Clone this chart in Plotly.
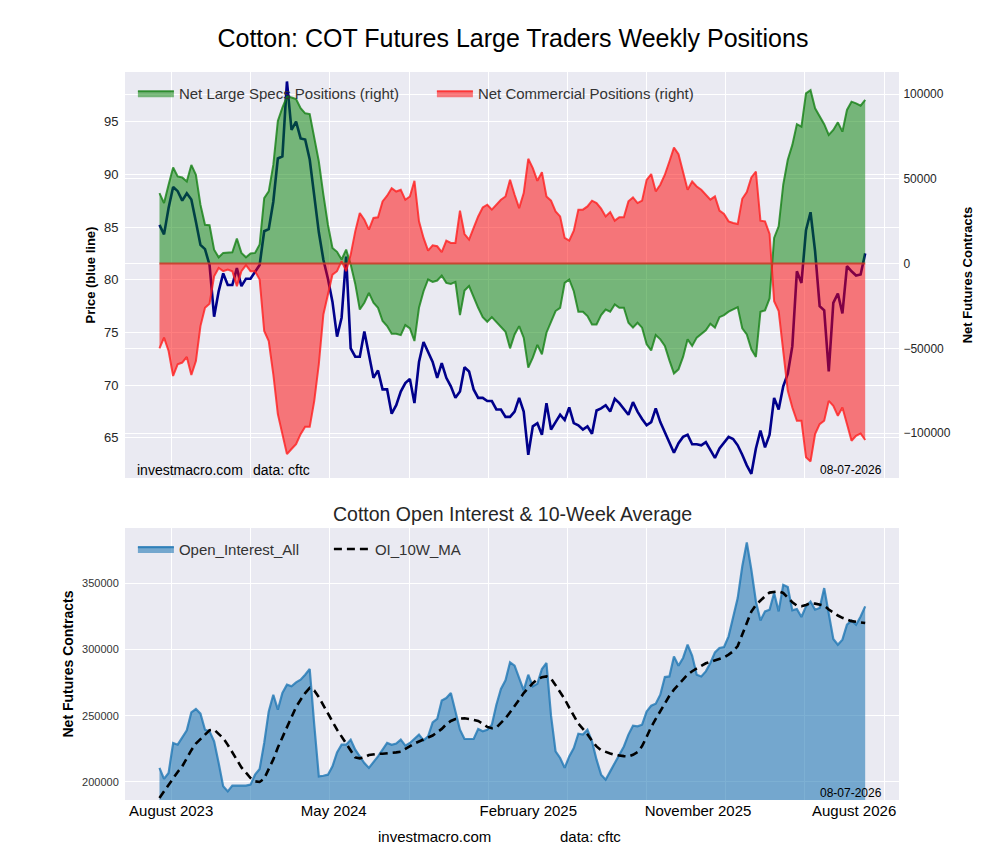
import pandas as pd
import plotly.graph_objects as go

# weekly report dates
dates = pd.date_range(end="2026-07-03", periods=156, freq="7D")

price = [85.2, 84.3, 86.8, 88.8, 88.4, 87.5, 88.2, 87.6, 85.5, 83.3,
         82.9, 81.4, 76.5, 78.9, 80.6, 79.5, 79.5, 81.1, 79.4, 80.1,
         80.1, 80.8, 81.4, 84.6, 84.8, 87.4, 91.5, 91.7, 98.8, 94.2,
         95.0, 93.4, 93.3, 91.4, 88.0, 84.5, 81.9, 80.1, 77.9, 74.6,
         76.4, 82.2, 73.5, 72.7, 72.7, 75.1, 72.9, 70.7, 71.4, 69.6,
         69.6, 67.3, 68.1, 69.4, 70.2, 70.6, 68.3, 72.2, 74.1, 73.2,
         72.2, 70.7, 72.1, 70.7, 69.9, 68.8, 69.4, 71.7, 71.3, 69.6,
         68.8, 68.8, 68.5, 68.5, 67.7, 67.7, 67.0, 67.0, 67.5, 68.8,
         67.5, 63.4, 66.1, 66.4, 65.3, 68.3, 65.8, 66.5, 67.2, 66.7,
         67.9, 66.4, 66.2, 65.8, 66.1, 65.4, 67.6, 67.8, 68.1, 67.5,
         68.7, 68.3, 67.8, 67.2, 68.4, 67.5, 66.8, 66.2, 66.5, 67.8,
         66.5, 65.5, 64.5, 63.6, 64.5, 65.1, 65.3, 64.4, 64.4, 64.3,
         64.6, 63.9, 63.1, 64.0, 64.5, 65.1, 64.9, 64.3, 63.4, 62.4,
         61.6, 64.0, 65.7, 64.1, 65.3, 68.8, 67.7, 69.9, 71.1, 73.7,
         80.8, 79.7, 84.7, 86.4, 82.7, 77.5, 77.1, 71.3, 77.8, 78.7,
         76.8, 81.3, 80.8, 80.4, 80.5, 82.5]

# net positions, thousands of contracts
specs_k = [41.6, 35.7, 46.5, 56.7, 51.4, 50.8, 48.4, 58.2, 52.4, 34.7,
           22.9, 22.6, 8.2, 3.7, 6.3, 6.5, 6.7, 14.7, 6.3, 3.7,
           5.9, 6.3, 11.2, 38.6, 42.6, 58.2, 84.1, 92.0, 98.5, 98.0,
           97.1, 91.6, 88.6, 88.2, 73.9, 60.2, 40.6, 22.9, 9.2, 6.9,
           2.4, 8.2, -0.6, -12.0, -27.1, -23.1, -17.3, -23.1, -26.1, -33.9,
           -36.9, -41.4, -41.4, -42.2, -36.3, -38.2, -45.7, -26.1, -16.3, -9.4,
           -10.8, -10.0, -7.1, -11.4, -12.0, -10.8, -30.4, -15.9, -13.3, -19.8,
           -26.1, -31.6, -34.3, -31.6, -34.3, -37.5, -40.2, -50.0, -41.8, -36.9,
           -43.7, -61.4, -55.5, -48.0, -53.5, -40.8, -33.9, -28.0, -26.1, -11.4,
           -9.4, -16.3, -28.4, -28.4, -31.0, -35.9, -35.9, -30.4, -27.1, -28.4,
           -24.1, -26.1, -26.1, -34.9, -37.8, -34.9, -37.8, -47.6, -51.2, -42.2,
           -44.7, -48.6, -57.1, -64.9, -62.4, -55.1, -44.7, -48.6, -43.7, -41.4,
           -39.4, -35.5, -37.8, -31.6, -30.4, -28.4, -27.1, -25.7, -38.2, -41.8,
           -50.6, -55.1, -28.4, -27.6, -20.6, 15.1, 22.0, 46.5, 61.2, 70.0,
           82.2, 80.8, 100.4, 102.3, 91.6, 86.7, 82.2, 75.9, 78.8, 83.3,
           77.8, 90.6, 95.5, 94.5, 93.1, 96.5]

comm_k = [-50.0, -43.7, -51.6, -66.3, -59.4, -58.4, -55.1, -65.7, -57.5, -36.9,
          -26.1, -23.7, -7.5, -2.6, -4.5, -3.5, -4.5, -13.3, -4.5, -1.0,
          -4.5, -4.5, -9.4, -39.8, -45.7, -65.3, -88.8, -101.6, -112.4, -109.4,
          -106.5, -100.6, -96.3, -96.3, -81.0, -59.4, -30.0, -18.2, -6.5, -4.5,
          1.4, -4.5, 5.3, 19.0, 29.8, 25.9, 20.0, 26.9, 27.3, 36.7,
          40.0, 44.5, 42.5, 43.5, 37.6, 39.6, 48.8, 24.9, 15.1, 7.6,
          10.8, 10.2, 6.7, 13.5, 12.2, 12.2, 31.2, 17.4, 14.1, 21.0,
          27.8, 33.1, 34.7, 31.8, 34.7, 37.6, 39.6, 49.4, 40.6, 32.7,
          41.6, 61.8, 56.3, 48.8, 53.9, 39.6, 37.1, 30.8, 27.8, 15.1,
          13.5, 19.4, 31.8, 31.8, 33.7, 37.1, 35.7, 32.4, 27.8, 30.4,
          25.3, 27.3, 27.3, 36.7, 39.0, 35.7, 37.1, 49.4, 52.8, 42.6,
          46.5, 52.4, 60.2, 68.4, 64.5, 54.3, 43.5, 48.4, 45.5, 43.5,
          40.6, 37.7, 39.6, 31.2, 29.2, 24.9, 23.9, 23.3, 38.2, 42.2,
          50.8, 54.3, 25.3, 24.9, 17.5, -22.2, -28.0, -53.5, -75.1, -84.9,
          -92.7, -92.7, -114.3, -116.7, -100.6, -94.7, -92.7, -81.0, -83.9, -89.8,
          -84.9, -94.7, -104.5, -101.6, -100.2, -104.1]

# open interest and its 10-week average, thousands of contracts
oi_k = [210.6, 202.3, 206.8, 229.4, 228.1, 233.2, 238.9, 252.5, 255.0, 251.5,
        239.4, 238.2, 230.6, 214.3, 196.7, 192.9, 197.2, 197.2, 197.2, 197.2,
        198.0, 205.5, 209.8, 229.4, 253.2, 265.8, 254.5, 267.1, 273.4, 272.1,
        275.1, 277.1, 280.9, 285.2, 243.0, 204.2, 204.7, 205.5, 211.8, 222.3,
        228.1, 228.1, 231.9, 224.3, 219.3, 214.3, 210.6, 214.8, 219.3, 224.3,
        229.4, 228.0, 229.0, 231.9, 227.4, 229.4, 232.4, 235.7, 231.4, 234.4,
        244.9, 247.5, 261.5, 263.3, 267.1, 253.2, 239.4, 232.4, 232.4, 232.4,
        240.0, 238.2, 239.4, 243.2, 258.3, 270.1, 276.6, 290.2, 287.7, 278.4,
        269.1, 280.9, 272.1, 274.1, 285.2, 289.7, 250.0, 223.1, 218.1, 210.6,
        219.3, 225.6, 236.4, 235.7, 239.4, 230.6, 216.8, 205.5, 201.7, 208.0,
        214.3, 221.3, 226.8, 235.7, 242.4, 241.9, 243.2, 253.2, 257.5, 259.0,
        265.8, 279.1, 279.6, 294.7, 287.7, 293.5, 303.5, 295.2, 280.9, 279.6,
        283.4, 289.7, 297.7, 301.0, 301.8, 309.8, 324.4, 338.7, 362.5, 380.6,
        360.0, 336.1, 321.8, 328.6, 329.9, 342.5, 328.6, 348.7, 347.0, 329.4,
        330.4, 324.4, 332.4, 336.1, 329.9, 331.2, 346.2, 327.4, 307.8, 303.5,
        307.3, 318.6, 321.8, 318.6, 324.8, 332.4]

oi_ma_k = [188.0, 193.0, 198.0, 203.0, 207.5, 211.8, 218.0, 224.0, 229.0, 232.5,
           236.0, 239.0, 239.5, 236.5, 233.0, 228.0, 222.0, 216.5, 211.0, 207.0,
           203.0, 200.5, 200.0, 202.5, 209.5, 217.0, 226.0, 233.8, 241.0, 249.0,
           256.5, 262.0, 267.0, 270.9, 269.0, 264.0, 257.5, 251.5, 245.5, 239.5,
           234.0, 228.5, 223.0, 218.5, 217.8, 218.5, 220.3, 221.0, 221.3, 221.3,
           221.5, 221.8, 222.3, 222.8, 225.0, 227.0, 229.0, 230.5, 232.0, 233.5,
           235.0, 237.5, 240.0, 243.5, 246.0, 247.5, 248.0, 248.0, 247.5, 247.0,
           246.0, 244.0, 241.5, 240.5, 241.0, 244.5, 248.0, 252.5, 257.0, 262.0,
           267.0, 271.0, 274.5, 277.5, 279.0, 279.6, 278.0, 273.0, 268.0, 262.5,
           256.0, 250.0, 244.0, 240.0, 236.0, 231.0, 226.8, 224.0, 222.5, 221.5,
           220.5, 219.8, 219.5, 219.3, 220.5, 222.5, 227.0, 234.0, 241.5, 247.5,
           253.5, 259.0, 265.0, 269.6, 273.5, 277.5, 281.0, 283.5, 285.2, 287.5,
           289.5, 290.5, 291.5, 292.5, 294.0, 296.0, 298.5, 302.5, 311.5, 321.0,
           328.5, 333.5, 337.0, 340.0, 342.8, 343.3, 343.7, 342.5, 339.0, 335.5,
           333.0, 332.5, 333.5, 334.9, 334.5, 334.0, 333.0, 330.0, 327.4, 325.5,
           323.8, 322.5, 321.3, 320.8, 320.3, 319.9]

grid_dates = ["2023-08-01", "2023-12-01", "2024-04-01", "2024-08-01", "2024-12-01",
              "2025-04-01", "2025-08-01", "2025-12-01", "2026-04-01", "2026-08-01"]
label_dates = ["2023-08-01", "2024-04-07", "2025-01-31", "2025-10-19", "2026-06-16"]
label_text = ["August 2023", "May 2024", "February 2025", "November 2025", "August 2026"]

specs = [v * 1000 for v in specs_k]
comm = [v * 1000 for v in comm_k]
oi = [v * 1000 for v in oi_k]
oi_ma = [v * 1000 for v in oi_ma_k]

FONT = "Liberation Sans, Arial, sans-serif"
BG = "#EAEAF2"
x_range = [dates[0] - pd.Timedelta(days=53), dates[-1] + pd.Timedelta(days=52)]

fig = go.Figure()

# price first so the translucent position fills sit on top of it
fig.add_trace(go.Scatter(x=dates, y=price, mode="lines", name="Price",
                         line=dict(color="#00008B", width=2.6),
                         showlegend=False, xaxis="x", yaxis="y"))
fig.add_trace(go.Scatter(x=dates, y=specs, mode="lines", fill="tozeroy",
                         name="Net Large Specs Positions (right)",
                         line=dict(color="rgba(20,128,20,0.8)", width=2),
                         fillcolor="rgba(0,128,0,0.5)",
                         xaxis="x", yaxis="y2", legend="legend"))
fig.add_trace(go.Scatter(x=dates, y=comm, mode="lines", fill="tozeroy",
                         name="Net Commercial Positions (right)",
                         line=dict(color="rgba(255,30,30,0.8)", width=2),
                         fillcolor="rgba(255,0,0,0.5)",
                         xaxis="x", yaxis="y2", legend="legend"))

fig.add_trace(go.Scatter(x=dates, y=oi, mode="lines", fill="tozeroy",
                         name="Open_Interest_All",
                         line=dict(color="rgba(31,119,180,0.8)", width=2.2),
                         fillcolor="rgba(31,119,180,0.58)",
                         xaxis="x2", yaxis="y3", legend="legend2"))
fig.add_trace(go.Scatter(x=dates, y=oi_ma, mode="lines", name="OI_10W_MA",
                         line=dict(color="black", width=2.6, dash="8px,5px"),
                         xaxis="x2", yaxis="y3", legend="legend2"))

# zero line where the two fills meet
fig.add_shape(type="line", xref="x", yref="y2", x0=dates[0], x1=dates[-1],
              y0=0, y1=0, line=dict(color="rgba(200,60,40,0.9)", width=2))

tickfont = dict(family=FONT, size=13, color="#262626")
fig.update_layout(
    width=992, height=852,
    paper_bgcolor="white", plot_bgcolor=BG,
    margin=dict(l=117, r=101, t=64, b=60),
    font=dict(family=FONT, color="#262626"),
    title=dict(text="Cotton: COT Futures Large Traders Weekly Positions",
               x=0.509, xanchor="center", y=1 - 30 / 852, yanchor="middle",
               font=dict(family=FONT, size=25, color="black")),
    xaxis=dict(domain=[0, 1], anchor="y", type="date", range=x_range,
               tickvals=grid_dates, showticklabels=False, showgrid=True,
               gridcolor="white", gridwidth=1.2, zeroline=False, showline=False),
    yaxis=dict(domain=[0.4423, 1], anchor="x", range=[61.2, 99.7],
               tickvals=[65, 70, 75, 80, 85, 90, 95], showgrid=True,
               gridcolor="white", gridwidth=1.2, zeroline=False,
               ticks="outside", ticklen=3, tickcolor="rgba(0,0,0,0)",
               tickfont=tickfont,
               title=dict(text="<b>Price (blue line)</b>", standoff=5,
                          font=dict(family=FONT, size=13, color="black"))),
    yaxis2=dict(overlaying="y", side="right", anchor="x",
                range=[-126500, 113000],
                tickvals=[-100000, -50000, 0, 50000, 100000], tickformat="d",
                showgrid=True, gridcolor="white", gridwidth=1.2, zeroline=False,
                ticks="outside", ticklen=1, tickcolor="rgba(0,0,0,0)",
                tickfont=dict(family=FONT, size=12, color="#262626"),
                title=dict(text="<b>Net Futures Contracts</b>", standoff=13,
                           font=dict(family=FONT, size=13, color="black"))),
    xaxis2=dict(domain=[0, 1], anchor="y3", type="date", range=x_range,
                tickvals=label_dates, ticktext=label_text, showgrid=False,
                ticks="",
                tickfont=dict(family=FONT, size=15, color="black"),
                minor=dict(tickvals=grid_dates, showgrid=True,
                           gridcolor="white", gridwidth=1.2, ticks=""),
                zeroline=False, showline=False),
    yaxis3=dict(domain=[0, 0.3736], anchor="x2", range=[186400, 391500],
                tickvals=[200000, 250000, 300000, 350000], tickformat="d",
                showgrid=True, gridcolor="white", gridwidth=1.2, zeroline=False,
                ticks="outside", ticklen=3, tickcolor="rgba(0,0,0,0)",
                tickfont=dict(family=FONT, size=11, color="#333333"),
                title=dict(text="<b>Net Futures Contracts</b>", standoff=5,
                           font=dict(family=FONT, size=14, color="black"))),
    legend=dict(orientation="h", x=0.0102, y=0.993, xanchor="left", yanchor="top",
                bgcolor="rgba(0,0,0,0)", font=dict(family=FONT, size=15, color="#333333"),
                itemwidth=36, entrywidth=248, entrywidthmode="pixels"),
    legend2=dict(orientation="h", x=0.0102, y=0.367, xanchor="left", yanchor="top",
                 bgcolor="rgba(0,0,0,0)", font=dict(family=FONT, size=15, color="#333333"),
                 itemwidth=36, entrywidth=145, entrywidthmode="pixels"),
)

small = dict(family=FONT, size=14, color="black")
date_font = dict(family=FONT, size=12, color="black")
fig.add_annotation(text="investmacro.com", xref="paper", yref="paper",
                   x=0.0129, y=0.4533, xanchor="left", yanchor="middle",
                   showarrow=False, font=small)
fig.add_annotation(text="data: cftc", xref="paper", yref="paper",
                   x=0.1628, y=0.4533, xanchor="left", yanchor="middle",
                   showarrow=False, font=small)
fig.add_annotation(text="08-07-2026", xref="paper", yref="paper",
                   x=0.9806, y=0.4533, xanchor="right", yanchor="middle",
                   showarrow=False, font=date_font)
fig.add_annotation(text="Cotton Open Interest & 10-Week Average", xref="paper",
                   yref="paper", x=0.5, y=0.3929, xanchor="center", yanchor="middle",
                   showarrow=False, font=dict(family=FONT, size=19.5, color="#262626"))
fig.add_annotation(text="08-07-2026", xref="paper", yref="paper",
                   x=0.9806, y=0.0096, xanchor="right", yanchor="middle",
                   showarrow=False, font=date_font)
fig.add_annotation(text="investmacro.com", xref="paper", yref="paper",
                   x=0.4005, y=-0.0495, xanchor="center", yanchor="middle",
                   showarrow=False, font=dict(family=FONT, size=15, color="black"))
fig.add_annotation(text="data: cftc", xref="paper", yref="paper",
                   x=0.6008, y=-0.0495, xanchor="center", yanchor="middle",
                   showarrow=False, font=dict(family=FONT, size=15, color="black"))

fig.write_html("out.html")
